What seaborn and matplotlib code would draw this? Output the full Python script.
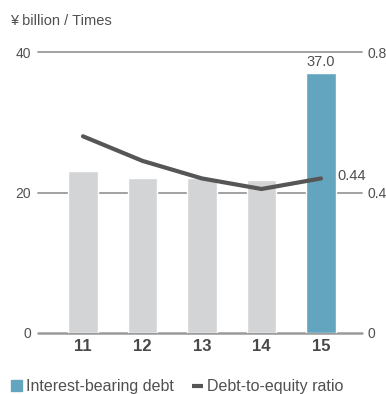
import matplotlib
matplotlib.use("Agg")
import matplotlib.pyplot as plt
import seaborn as sns
import numpy as np
import pandas as pd

# Fiscal years and values
years = ["11", "12", "13", "14", "15"]
debt = [23.0, 22.0, 22.0, 21.8, 37.0]          # interest-bearing debt, ¥ billion
de_ratio = [0.56, 0.49, 0.44, 0.41, 0.44]       # debt-to-equity ratio, times
left_ticks = [0, 20, 40]
right_ticks = [0, 0.4, 0.8]
right_tick_labels = ["0", "0.4", "0.8"]

GREY_BAR = "#d3d4d6"
BLUE_BAR = "#63a4be"
LINE_C = "#565656"
GRID_C = "#9a9a9a"
TEXT_C = "#505050"

sns.set_theme(style="white")
plt.rcParams["font.family"] = ["Liberation Sans", "DejaVu Sans"]

fig = plt.figure(figsize=(3.86, 3.94), dpi=100)
ax = fig.add_axes([38 / 386, 1 - 333 / 394, (362 - 38) / 386, (333 - 52) / 394])

df = pd.DataFrame({"year": years, "debt": debt})
bar_colors = [GREY_BAR] * (len(years) - 1) + [BLUE_BAR]
sns.barplot(data=df, x="year", y="debt", hue="year", palette=bar_colors,
            legend=False, width=0.5, ax=ax, zorder=2, saturation=1)

ax.set_xlim(-0.756, 4.689)
ax.set_ylim(0, 40)
for v in left_ticks:
    ax.axhline(v, color=GRID_C, lw=1.3 if v else 1.8, zorder=1, clip_on=False)
ax.set_yticks(left_ticks)
ax.set_yticklabels([str(t) for t in left_ticks], color=TEXT_C, fontsize=10)
ax.tick_params(axis="y", length=0, pad=5)
ax.tick_params(axis="x", length=0, pad=4)
for lab in ax.get_xticklabels():
    lab.set_fontweight("bold")
    lab.set_fontsize(12)
    lab.set_color("#484848")
ax.set_xlabel("")
ax.set_ylabel("")
for s in ax.spines.values():
    s.set_visible(False)

# value label on the latest bar
ax.text(len(years) - 1, debt[-1] + 0.55, f"{debt[-1]:.1f}", ha="center", va="bottom",
        color=TEXT_C, fontsize=10.5)

# ratio line on a secondary axis
ax2 = ax.twinx()
sns.lineplot(x=np.arange(len(years)), y=de_ratio, ax=ax2, color=LINE_C, lw=3,
             zorder=3)
ax2.set_ylim(0, 0.8)
ax2.set_yticks(right_ticks)
ax2.set_yticklabels(right_tick_labels, color=TEXT_C, fontsize=10)
ax2.tick_params(axis="y", length=0, pad=4)
for s in ax2.spines.values():
    s.set_visible(False)
ax2.text(len(years) - 1 + 0.27, de_ratio[-1] + 0.006, f"{de_ratio[-1]:.2f}",
         ha="left", va="center", color=TEXT_C, fontsize=10.5)

# unit label
fig.text(10 / 386, 1 - 21 / 394, "¥ billion / Times", ha="left", va="center",
         color=TEXT_C, fontsize=10.5)

# legend
fig.patches.append(matplotlib.patches.Rectangle((11 / 386, 1 - 391 / 394), 11 / 386, 11 / 394,
                                                transform=fig.transFigure, color=BLUE_BAR))
fig.text(26 / 386, 1 - 386 / 394, "Interest-bearing debt", ha="left", va="center",
         color=TEXT_C, fontsize=11.5)
fig.lines.append(matplotlib.lines.Line2D([192 / 386, 203 / 386], [1 - 386 / 394] * 2,
                                         transform=fig.transFigure, color=LINE_C, lw=3,
                                         solid_capstyle="butt"))
fig.text(207 / 386, 1 - 386 / 394, "Debt-to-equity ratio", ha="left", va="center",
         color=TEXT_C, fontsize=11.5)

fig.savefig("out.png", dpi=100)
